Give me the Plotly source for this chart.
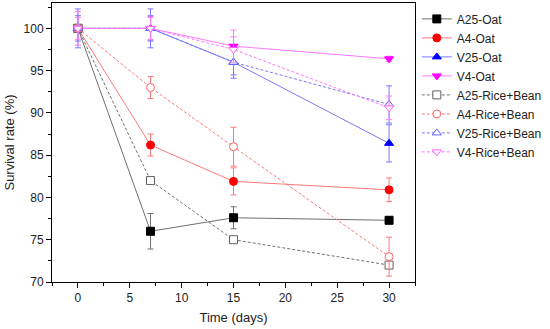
import plotly.graph_objects as go

days = [0, 7, 15, 30]

a25_oat = [100, 76.0, 77.6, 77.3]
a4_oat = [100, 86.2, 81.9, 80.9]
v25_oat = [100, 100, 96.0, 86.4]
v4_oat = [100, 100, 97.9, 96.4]
a25_rb = [100, 82.0, 75.0, 72.0]
a4_rb = [100, 93.0, 86.0, 73.0]
v25_rb = [100, 100, 96.0, 91.0]
v4_rb = [100, 100, 97.5, 90.6]

a25_oat_err = [0, 2.1, 1.3, 0.4]
a4_oat_err = [0, 1.3, 1.6, 1.4]
v25_oat_err = [2.3, 2.3, 1.9, 2.2]
v4_oat_err = [2.0, 1.4, 1.9, 0.3]
a25_rb_err = [0, 0, 0, 0]
a4_rb_err = [0, 1.3, 2.3, 2.3]
v25_rb_err = [1.5, 1.5, 1.5, 2.2]
v4_rb_err = [1.3, 1.3, 1.5, 1.4]

series = [
    ("A25-Oat", a25_oat, a25_oat_err, "#000000", "#707070", "square", "solid", True),
    ("A4-Oat", a4_oat, a4_oat_err, "#ff0000", "#ff7878", "circle", "solid", True),
    ("V25-Oat", v25_oat, v25_oat_err, "#0000ff", "#7878ff", "triangle-up", "solid", True),
    ("V4-Oat", v4_oat, v4_oat_err, "#ff00ff", "#ff78ff", "triangle-down", "solid", True),
    ("A25-Rice+Bean", a25_rb, a25_rb_err, "#606060", "#707070", "square", "3px,2px", False),
    ("A4-Rice+Bean", a4_rb, a4_rb_err, "#ff6060", "#ff7878", "circle", "3px,2px", False),
    ("V25-Rice+Bean", v25_rb, v25_rb_err, "#6060ff", "#7878ff", "triangle-up", "3px,2px", False),
    ("V4-Rice+Bean", v4_rb, v4_rb_err, "#ff60ff", "#ff78ff", "triangle-down", "3px,2px", False),
]

fig = go.Figure()
for name, ys, err, mcol, lcol, sym, dash, filled in series:
    fig.add_trace(go.Scatter(
        x=days, y=ys, name=name, mode="lines+markers",
        line=dict(color=lcol, width=1, dash=dash),
        marker=dict(symbol=sym, size=8,
                    color=mcol if filled else "white",
                    line=dict(color=mcol, width=1)),
        error_y=dict(type="data", array=err, visible=True,
                     color=lcol, thickness=1, width=3),
    ))

font_family = "Liberation Sans, Arial"
axis_common = dict(
    showline=True, linecolor="black", linewidth=1, mirror=True,
    ticks="outside", ticklen=5, tickcolor="black", showgrid=False,
    zeroline=False, tickfont=dict(family=font_family, size=12, color="#222"),
)

fig.update_xaxes(range=[-2.5, 32.5], tickvals=[0, 5, 10, 15, 20, 25, 30],
                 minor=dict(ticks="outside", ticklen=3, dtick=2.5, tick0=0, tickcolor="black"),
                 title=dict(text="Time (days)", font=dict(family=font_family, size=13, color="#222"), standoff=8),
                 **axis_common)
fig.update_yaxes(range=[70, 103], tickvals=[70, 75, 80, 85, 90, 95, 100],
                 minor=dict(ticks="outside", ticklen=3, dtick=2.5, tick0=70, tickcolor="black"),
                 title=dict(text="Survival rate (%)", font=dict(family=font_family, size=13, color="#222"), standoff=6),
                 **axis_common)

fig.update_layout(
    width=550, height=329,
    margin=dict(l=52, r=121, t=3, b=47),
    plot_bgcolor="white", paper_bgcolor="white",
    legend=dict(x=1.005, y=0.995, xanchor="left", yanchor="top",
                font=dict(family=font_family, size=12, color="#222"),
                tracegroupgap=0, bgcolor="rgba(0,0,0,0)"),
    showlegend=True,
)

fig.write_html("out.html",
               config={"displayModeBar": False},
               post_script="document.body.style.margin='0';document.body.style.overflow='hidden';")
